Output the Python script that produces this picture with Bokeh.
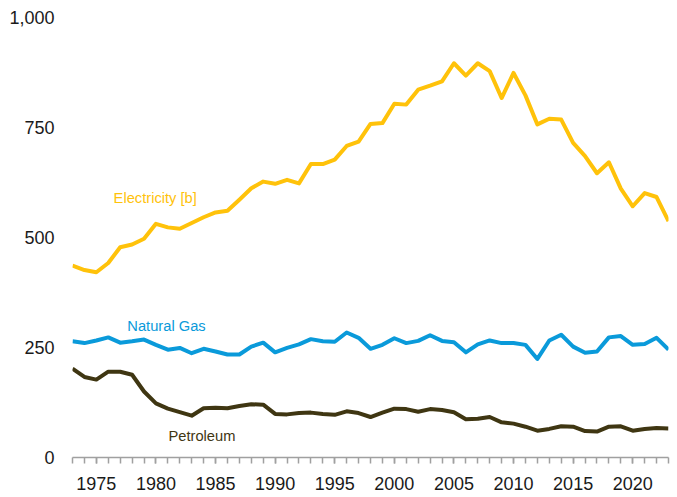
from bokeh.plotting import figure
from bokeh.models import ColumnDataSource, FixedTicker, NumeralTickFormatter, Range1d, Label
from bokeh.embed import file_html
from bokeh.resources import INLINE

years = list(range(1973, 2024))
electricity = [436, 426, 421, 442, 478, 484, 497, 531, 523, 520, 533, 546, 557, 561, 586, 612,
               627, 622, 631, 623, 667, 667, 677, 708, 718, 758, 760, 804, 802, 836, 845, 855,
               896, 868, 896, 878, 817, 874, 823, 757, 770, 768, 715, 685, 646, 671, 611, 571,
               601, 592, 537]
natural_gas = [264, 260, 266, 273, 261, 264, 268, 256, 245, 249, 237, 247, 241, 234, 234, 252,
               261, 239, 249, 257, 269, 264, 263, 284, 272, 247, 256, 271, 260, 265, 278, 265,
               262, 239, 257, 266, 260, 260, 256, 224, 266, 279, 252, 238, 241, 273, 276, 256,
               258, 272, 245]
petroleum = [202, 183, 177, 195, 195, 188, 150, 123, 111, 103, 95, 112, 113, 112, 117, 121,
             120, 99, 98, 101, 102, 99, 97, 105, 101, 92, 102, 111, 110, 104, 110, 108,
             103, 87, 88, 92, 80, 77, 70, 61, 65, 71, 70, 60, 59, 70, 71, 61,
             65, 67, 66]
x_label_years = [1975, 1980, 1985, 1990, 1995, 2000, 2005, 2010, 2015, 2020]
y_ticks = [0, 250, 500, 750, 1000]

series_names = ["Electricity [b]", "Natural Gas", "Petroleum"]
colors = ["#FFC20A", "#0A9ADA", "#3F3612"]

src = ColumnDataSource(dict(year=years, elec=electricity, gas=natural_gas, pet=petroleum))

p = figure(width=677, height=497, output_backend="svg", toolbar_location=None,
           x_range=Range1d(1973, 2023), y_range=Range1d(0, 1000),
           min_border_left=72, min_border_right=9, min_border_top=17, min_border_bottom=40)
p.outline_line_color = None
p.xgrid.grid_line_color = None
p.ygrid.grid_line_color = None
p.background_fill_color = "white"

for col, c in zip(["elec", "gas", "pet"], colors):
    p.line("year", col, source=src, line_color=c, line_width=4, line_join="round")

# x axis
xa = p.xaxis[0]
xa.ticker = FixedTicker(ticks=x_label_years, minor_ticks=years)
xa.axis_line_color = "#A0A0A0"
xa.axis_line_width = 1.5
xa.major_tick_line_color = "#A0A0A0"
xa.minor_tick_line_color = "#A0A0A0"
xa.major_tick_line_width = 1.5
xa.minor_tick_line_width = 1.5
xa.major_tick_in = 0
xa.major_tick_out = 6
xa.minor_tick_in = 0
xa.minor_tick_out = 6
xa.major_label_text_font = "Liberation Sans"
xa.major_label_text_font_size = "18px"
xa.major_label_text_color = "#1a1a1a"
xa.major_label_standoff = 13

# y axis
ya = p.yaxis[0]
ya.ticker = FixedTicker(ticks=y_ticks)
ya.formatter = NumeralTickFormatter(format="0,0")
ya.axis_line_color = None
ya.major_tick_line_color = None
ya.minor_tick_line_color = None
ya.major_label_text_font = "Liberation Sans"
ya.major_label_text_font_size = "18px"
ya.major_label_text_color = "#1a1a1a"
ya.major_label_standoff = 12

# series labels
label_pos = [(1976.45, 589), (1977.6, 300), (1981.05, 50)]
for name, c, (lx, ly) in zip(series_names, colors, label_pos):
    p.add_layout(Label(x=lx, y=ly, text=name, text_color=c, text_font="Liberation Sans",
                       text_font_size="14.7px", text_baseline="middle", text_align="left"))

open("out.html", "w").write(file_html(p, INLINE))
